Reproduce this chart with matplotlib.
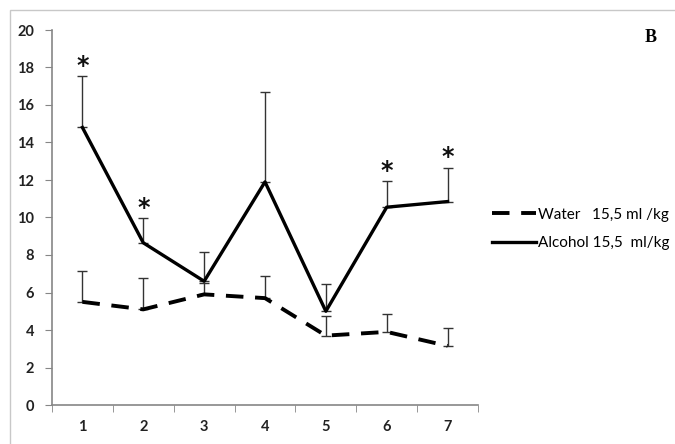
import matplotlib

matplotlib.use("Agg")
import matplotlib.pyplot as plt
from matplotlib.lines import Line2D
from matplotlib.patches import Rectangle

# values
days = [1, 2, 3, 4, 5, 6, 7]
water = [5.5, 5.1, 5.9, 5.7, 3.7, 3.9, 3.15]
water_err = [1.65, 1.7, 0.6, 1.2, 1.05, 0.95, 0.95]
alcohol = [14.8, 8.65, 6.6, 11.9, 5.0, 10.55, 10.85]
alcohol_err = [2.75, 1.3, 1.55, 4.8, 1.45, 1.4, 1.8]
starred = [1, 2, 6, 7]

y_ticks = list(range(0, 21, 2))
water_label = "Water   15,5 ml /kg"
alcohol_label = "Alcohol 15,5  ml/kg"

plt.rcParams["font.family"] = ["Lato", "DejaVu Sans"]

fig = plt.figure(figsize=(6.75, 4.44), dpi=100)
fig.patches.append(Rectangle((10 / 675, -0.1), 1.2, (434 + 44) / 444, transform=fig.transFigure,
                             fill=False, edgecolor="#c8c8c8", linewidth=1.0))
ax = fig.add_axes([52 / 675, 39 / 444, 426 / 675, 375 / 444])

ax.errorbar(days, water, yerr=[[0] * 7, water_err], fmt="none", ecolor="#333333",
            elinewidth=1.0, capsize=3.5, capthick=1.0, zorder=2)
ax.errorbar(days, alcohol, yerr=[[0] * 7, alcohol_err], fmt="none", ecolor="#333333",
            elinewidth=1.0, capsize=3.5, capthick=1.0, zorder=2)
ax.plot(days, water, color="black", linewidth=2.8, dashes=(4.5, 3), zorder=3)
ax.plot(days, alcohol, color="black", linewidth=2.4, zorder=3)

for d in starred:
    i = days.index(d)
    ax.text(d, alcohol[i] + alcohol_err[i] + 0.55, "*", ha="center", va="center",
            fontsize=17, fontweight="bold", color="#111111", family="DejaVu Sans")

ax.set_xlim(0.5, 7.5)
ax.set_ylim(0, 20)
ax.set_yticks(y_ticks)
ax.set_xticks(days)
ax.set_xticks([k + 0.5 for k in range(0, 8)], minor=True)
ax.tick_params(axis="x", which="major", length=0, pad=11, labelsize=10.5)
ax.tick_params(axis="x", which="minor", length=5, direction="out", color="#868686")
ax.tick_params(axis="y", length=5, direction="out", color="#868686", labelsize=10.5, pad=8)
for lbl in ax.get_xticklabels() + ax.get_yticklabels():
    lbl.set_fontweight("bold")
    lbl.set_color("#222222")
for s in ("top", "right"):
    ax.spines[s].set_visible(False)
for s in ("left", "bottom"):
    ax.spines[s].set_color("#868686")
    ax.spines[s].set_linewidth(1.2)

handles = [
    Line2D([], [], color="black", linewidth=2.8, dashes=(4.5, 3)),
    Line2D([], [], color="black", linewidth=2.4),
]
fig.legend(handles, [water_label, alcohol_label], loc="center left",
           bbox_to_anchor=(478 / 675, 1 - 229 / 444), frameon=False, fontsize=11,
           handlelength=2.9, handletextpad=0.1, labelspacing=0.95)

fig.text(651 / 675, 1 - 37 / 444, "B", fontsize=13, fontweight="bold",
         family="Liberation Serif", ha="center", va="center")

fig.savefig("out.png", dpi=100)
